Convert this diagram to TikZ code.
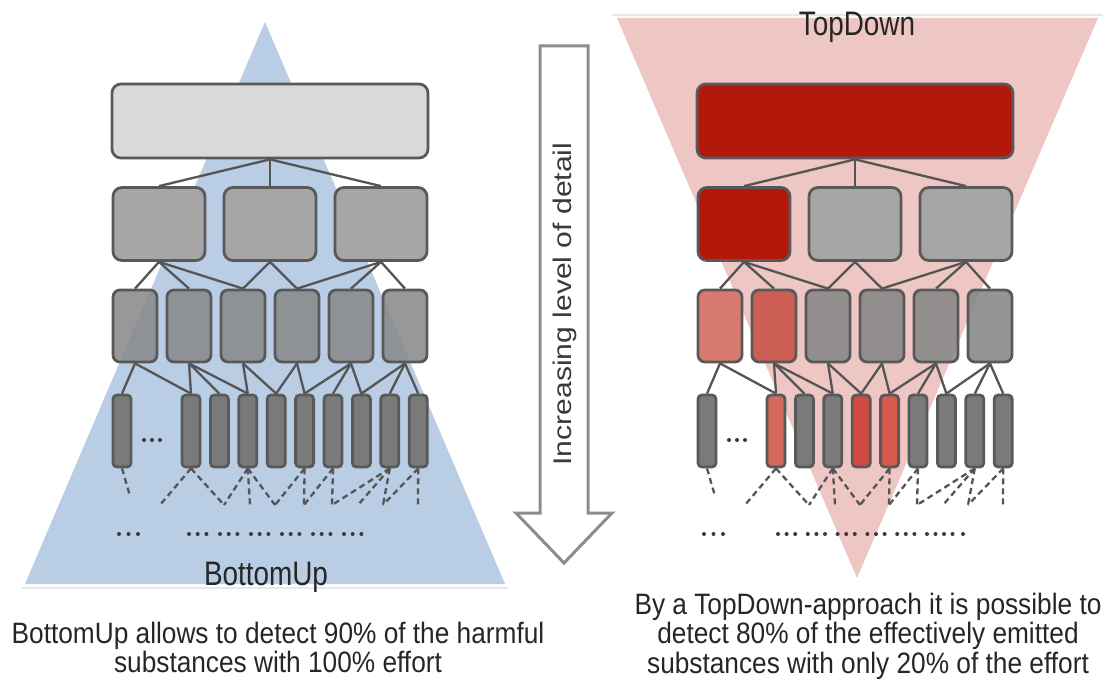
\documentclass[tikz,border=0pt]{standalone}
\usepackage{fontspec}
\setmainfont{Liberation Sans}
\newfontfamily\condensedfont[FakeStretch=0.82]{Liberation Sans}
\newfontfamily\captionfont[FakeStretch=0.89]{Liberation Sans}
\newfontfamily\widefont[FakeStretch=1.18]{Liberation Sans}

\definecolor{bluetri}{HTML}{B9CDE5}
\definecolor{pinktri}{HTML}{EEC6C3}
\definecolor{boxline}{HTML}{595959}
\definecolor{linkgray}{HTML}{555555}
\definecolor{lightbox}{HTML}{D9D9D9}
\definecolor{midgray}{HTML}{A6A6A6}
\definecolor{subgray}{HTML}{878787}
\definecolor{leafgray}{HTML}{7A7A7A}
\definecolor{darkred}{HTML}{B2190B}
\definecolor{salmon}{HTML}{D87A6F}
\definecolor{brickred}{HTML}{CD5E53}
\definecolor{leafredA}{HTML}{D4695D}
\definecolor{leafredB}{HTML}{CF4A3F}
\definecolor{leafredC}{HTML}{D65A4D}
\definecolor{arrowgray}{HTML}{8C8C8C}
\definecolor{inktext}{HTML}{262626}
\definecolor{dotcol}{HTML}{3A3A3A}
\definecolor{edgeglow}{HTML}{E4E8EE}

\tikzset{
  box/.style={draw=boxline, line width=2.8pt, inner sep=0pt, anchor=center},
  topbox/.style={box, rounded corners=9pt, minimum width=316pt, minimum height=74pt},
  midbox/.style={box, rounded corners=9pt, minimum width=92pt, minimum height=73pt},
  subbox/.style={box, rounded corners=7pt, minimum width=44pt, minimum height=72pt},
  leafbox/.style={box, rounded corners=4pt, minimum width=18pt, minimum height=72pt},
  link/.style={draw=linkgray, line width=2.3pt},
  dlink/.style={link, dash pattern=on 6pt off 4pt},
  % default fills (grey hierarchy)
  c-top/.style={fill=lightbox},
  c-m1/.style={fill=midgray}, c-m2/.style={fill=midgray}, c-m3/.style={fill=midgray},
  c-t1/.style={fill=subgray, fill opacity=0.85}, c-t2/.style={fill=subgray, fill opacity=0.85},
  c-t3/.style={fill=subgray, fill opacity=0.85}, c-t4/.style={fill=subgray, fill opacity=0.85},
  c-t5/.style={fill=subgray, fill opacity=0.85}, c-t6/.style={fill=subgray, fill opacity=0.85},
  c-l1/.style={fill=leafgray}, c-l2/.style={fill=leafgray}, c-l3/.style={fill=leafgray},
  c-l4/.style={fill=leafgray}, c-l5/.style={fill=leafgray}, c-l6/.style={fill=leafgray},
  c-l7/.style={fill=leafgray}, c-l8/.style={fill=leafgray}, c-l9/.style={fill=leafgray},
  c-l10/.style={fill=leafgray},
  tag/.style={text=inktext, inner sep=0pt, font=\condensedfont\fontsize{34}{34}\selectfont},
  caption/.style={text=inktext, inner sep=0pt, align=center,
    font=\captionfont\fontsize{29.5}{29.5}\selectfont},
}

% One hierarchy: root, three groups, six subgroups, ten leaves, open ends
\newcommand\hierarchy[1]{%
  \node[topbox, c-top] (#1-top) at (270,121) {};
  \node[midbox, c-m1] (#1-m1) at (159,224) {};
  \node[midbox, c-m2] (#1-m2) at (270,224) {};
  \node[midbox, c-m3] (#1-m3) at (381,224) {};
  \node[subbox, c-t1] (#1-t1) at (135,326) {};
  \node[subbox, c-t2] (#1-t2) at (189,326) {};
  \node[subbox, c-t3] (#1-t3) at (243,326) {};
  \node[subbox, c-t4] (#1-t4) at (297,326) {};
  \node[subbox, c-t5] (#1-t5) at (351,326) {};
  \node[subbox, c-t6] (#1-t6) at (405,326) {};
  \node[leafbox, c-l1] (#1-l1) at (122,431) {};
  \node[leafbox, c-l2] (#1-l2) at (191,431) {};
  \node[leafbox, c-l3] (#1-l3) at (219.4,431) {};
  \node[leafbox, c-l4] (#1-l4) at (247.8,431) {};
  \node[leafbox, c-l5] (#1-l5) at (276.2,431) {};
  \node[leafbox, c-l6] (#1-l6) at (304.6,431) {};
  \node[leafbox, c-l7] (#1-l7) at (333,431) {};
  \node[leafbox, c-l8] (#1-l8) at (361.4,431) {};
  \node[leafbox, c-l9] (#1-l9) at (389.8,431) {};
  \node[leafbox, c-l10] (#1-l10) at (418.2,431) {};
  % solid links
  \draw[link] (#1-top.south) -- (#1-m1.north);
  \draw[link] (#1-top.south) -- (#1-m2.north);
  \draw[link] (#1-top.south) -- (#1-m3.north);
  \draw[link] (#1-m1.south) -- (#1-t1.north);
  \draw[link] (#1-m1.south) -- (#1-t2.north);
  \draw[link] (#1-m1.south) -- (#1-t3.north);
  \draw[link] (#1-m2.south) -- (#1-t3.north);
  \draw[link] (#1-m2.south) -- (#1-t4.north);
  \draw[link] (#1-m3.south) -- (#1-t4.north);
  \draw[link] (#1-m3.south) -- (#1-t5.north);
  \draw[link] (#1-m3.south) -- (#1-t6.north);
  \draw[link] (#1-t1.south) -- (#1-l1.north);
  \draw[link] (#1-t1.south) -- (#1-l2.north);
  \draw[link] (#1-t2.south) -- (#1-l2.north);
  \draw[link] (#1-t2.south) -- (#1-l3.north);
  \draw[link] (#1-t2.south) -- (#1-l4.north);
  \draw[link] (#1-t3.south) -- (#1-l4.north);
  \draw[link] (#1-t3.south) -- (#1-l5.north);
  \draw[link] (#1-t4.south) -- (#1-l5.north);
  \draw[link] (#1-t4.south) -- (#1-l6.north);
  \draw[link] (#1-t5.south) -- (#1-l6.north);
  \draw[link] (#1-t5.south) -- (#1-l7.north);
  \draw[link] (#1-t5.south) -- (#1-l8.north);
  \draw[link] (#1-t6.south) -- (#1-l8.north);
  \draw[link] (#1-t6.south) -- (#1-l9.north);
  \draw[link] (#1-t6.south) -- (#1-l10.north);
  % open ends below the leaves
  \coordinate (#1-e0) at (130,496);
  \coordinate (#1-ea) at (160,505);
  \coordinate (#1-eb) at (224,505);
  \coordinate (#1-ec) at (250,505);
  \coordinate (#1-ed) at (275,505);
  \coordinate (#1-ee) at (304,505);
  \coordinate (#1-ef) at (332,505);
  \coordinate (#1-eg) at (358,505);
  \coordinate (#1-eh) at (383,505);
  \coordinate (#1-ei) at (418,505);
  \draw[dlink] (#1-l1.south) -- (#1-e0);
  \draw[dlink] (#1-l2.south) -- (#1-ea);
  \draw[dlink] (#1-l2.south) -- (#1-eb);
  \draw[dlink] (#1-l4.south) -- (#1-eb);
  \draw[dlink] (#1-l4.south) -- (#1-ec);
  \draw[dlink] (#1-l4.south) -- (#1-ed);
  \draw[dlink] (#1-l6.south) -- (#1-ed);
  \draw[dlink] (#1-l6.south) -- (#1-ee);
  \draw[dlink] (#1-l7.south) -- (#1-ee);
  \draw[dlink] (#1-l7.south) -- (#1-ef);
  \draw[dlink] (#1-l9.south) -- (#1-ef);
  \draw[dlink] (#1-l9.south) -- (#1-eg);
  \draw[dlink] (#1-l9.south) -- (#1-eh);
  \draw[dlink] (#1-l10.south) -- (#1-eh);
  \draw[dlink] (#1-l10.south) -- (#1-ei);
  % ellipsis between first and second leaf
  \foreach \x in {144,152,160} \fill[dotcol] (\x,440) circle (2pt);
  % ellipsis row
  \foreach \x in {119,128.5,138} \fill[dotcol] (\x,534) circle (2pt);
}

\begin{document}
\begin{tikzpicture}[x=1pt, y=-1pt]
  \useasboundingbox (0,0) rectangle (1112,679);
  \fill[white] (0,0) rectangle (1112,679);

  % ---------- BottomUp side ----------
  \fill[bluetri] (265,22) -- (505,584) -- (25,584) -- cycle;
  \draw[edgeglow, line width=2pt] (22,588) -- (508,588);
  \hierarchy{bu}
  \foreach \g in {0,...,5}
    \foreach \d in {0,1,2}
      \fill[dotcol] ({189+31*\g+8.7*\d},534) circle (2pt);
  \node[tag, anchor=base] (bulabel) at (266,585) {BottomUp};
  \node[caption, anchor=north] (bucap) at (278,621.5)
    {BottomUp allows to detect 90\% of the harmful\\substances with 100\% effort};

  % ---------- level-of-detail arrow ----------
  \draw[arrowgray, line width=3pt, fill=white, line join=miter]
    (540,46) -- (588,46) -- (588,513) -- (612,513) -- (564,563)
    -- (516,513) -- (540,513) -- cycle;
  \node[rotate=90, text=dotcol, inner sep=0pt,
        font=\widefont\fontsize{25.5}{25.5}\selectfont] (detail) at (565,304)
    {Increasing level of detail};

  % ---------- TopDown side ----------
  \draw[edgeglow, line width=2pt] (612,15) -- (1103,15);
  \fill[pinktri] (617,18) -- (1098,18) -- (857,578) -- cycle;
  \begin{scope}[xshift=585pt,
      c-top/.style={fill=darkred},
      c-m1/.style={fill=darkred},
      c-t1/.style={fill=salmon}, c-t2/.style={fill=brickred},
      c-t3/.style={fill=subgray, fill opacity=0.88},
      c-t4/.style={fill=subgray, fill opacity=0.88},
      c-t5/.style={fill=subgray, fill opacity=0.88},
      c-t6/.style={fill=subgray, fill opacity=0.88},
      c-l2/.style={fill=leafredA}, c-l5/.style={fill=leafredB},
      c-l6/.style={fill=leafredC}]
    \hierarchy{td}
  \end{scope}
  \foreach \g in {0,...,4}
    \foreach \d in {0,1,2}
      \fill[dotcol] ({778+29.8*\g+8.6*\d},534) circle (2pt);
  \foreach \x in {927,935.5,944,952.5,963} \fill[dotcol] (\x,534) circle (2pt);
  \node[tag, anchor=base] (tdlabel) at (857,36) {TopDown};
  \node[caption, anchor=north] (tdcap) at (868,592.5)
    {By a TopDown-approach it is possible to\\detect 80\% of the effectively emitted\\substances with only 20\% of the effort};
\end{tikzpicture}
\end{document}
